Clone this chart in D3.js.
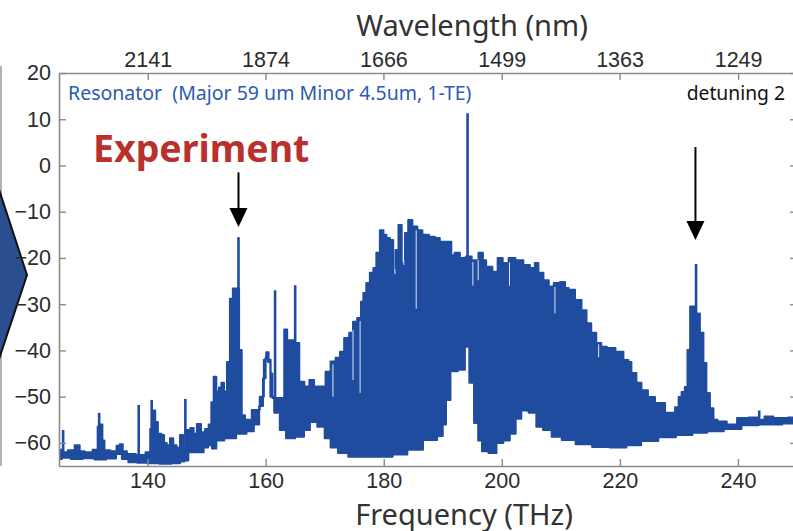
<!DOCTYPE html>
<html>
<head>
<meta charset="utf-8">
<script src="https://cdn.jsdelivr.net/npm/d3@7"></script>
<style>
  body { margin: 0; background: #fff; }
  svg { display: block; font-family: 'Liberation Sans', Arial, sans-serif; }
</style>
</head>
<body>
<div id="chart"></div>
<script>
const freqTicks = [140, 160, 180, 200, 220, 240]
const wavelengthTicks = [2141, 1874, 1666, 1499, 1363, 1249]
const powerTicks = [-60, -50, -40, -30, -20, -10, 0, 10, 20]

// upper edge of the comb spectrum (THz, dB)
const topFreq = [125.0, 125.4, 126.0, 127.0, 128.3, 128.7, 130.0, 131.4, 131.7, 132.2, 132.5, 132.9,
  134.5, 135.0, 135.6, 136.0, 137.0, 139.0, 140.3, 140.6, 141.1, 141.5, 142.0, 142.6, 143.0, 143.5,
  144.1, 144.6, 145.2, 145.8, 146.2, 146.9, 147.6, 148.0, 148.7, 149.4, 150.1, 150.6, 151.0, 151.4,
  151.9, 152.3, 152.7, 153.2, 153.7, 154.2, 154.7, 155.3, 155.7, 156.2, 156.8, 158.5, 159.5, 159.9,
  160.3, 160.7, 161.0, 161.3, 163.1, 163.2, 164.1, 165.3, 166.1, 167.0, 167.8, 168.6, 169.7, 170.6,
  171.4, 172.3, 172.9, 173.7, 174.6, 175.0, 176.0, 176.3, 176.8, 177.3, 178.0, 178.5, 179.0, 179.7,
  180.2, 180.7, 181.4, 181.8, 182.2, 182.8, 183.3, 183.9, 184.4, 185.3, 186.1, 187.0, 188.3, 189.0,
  190.0, 191.2, 191.7, 192.3, 193.5, 194.3, 195.5, 196.6, 197.0, 197.7, 199.1, 199.5, 200.8, 201.5,
  203.1, 204.2, 205.3, 205.9, 206.5, 207.6, 208.3, 209.3, 210.4, 211.0, 211.6, 213.2, 213.8, 214.9,
  215.4, 216.6, 217.1, 218.5, 220.0, 221.2, 221.7, 222.2, 223.4, 223.9, 225.6, 226.3, 229.0, 229.7,
  230.2, 230.7, 231.3, 231.6, 232.2, 232.6, 233.2, 233.9, 234.4, 234.9, 235.6, 236.1, 237.0, 239.2,
  240.5, 243.2, 244.0, 245.0, 247.0, 250.0]
const topPower = [-61.8, -61.5, -62.0, -61.6, -60.5, -61.8, -62.0, -61.5, -56.5, -56.0, -59.5, -61.6,
  -61.8, -60.6, -60.3, -61.8, -62.4, -62.6, -62.0, -57.0, -53.0, -55.5, -58.0, -58.3, -60.0, -60.5,
  -59.0, -60.5, -61.0, -58.3, -61.0, -57.2, -56.8, -58.0, -55.9, -57.7, -57.0, -56.0, -51.2, -45.7,
  -48.9, -48.0, -47.0, -48.9, -42.5, -28.8, -26.6, -26.6, -39.9, -54.0, -55.0, -52.9, -50.0, -42.0,
  -40.4, -42.0, -45.0, -50.3, -50.3, -35.5, -37.8, -38.4, -46.8, -47.8, -46.4, -47.8, -47.8, -44.6,
  -42.4, -41.6, -40.3, -37.3, -36.2, -33.8, -33.0, -29.5, -27.6, -25.4, -23.2, -22.2, -18.9, -14.0,
  -15.0, -15.7, -16.1, -23.0, -18.3, -12.9, -21.1, -14.6, -11.8, -13.2, -14.0, -15.0, -15.4, -15.7,
  -16.5, -16.5, -19.4, -18.9, -20.0, -19.7, -20.5, -18.9, -20.5, -21.9, -23.0, -20.0, -21.1, -20.0,
  -20.5, -21.5, -22.2, -21.1, -23.2, -24.8, -26.2, -25.4, -25.2, -26.5, -26.9, -29.1, -31.3, -34.1,
  -36.2, -38.4, -39.2, -39.5, -40.3, -42.1, -42.5, -44.9, -47.0, -48.6, -50.1, -51.4, -53.5, -52.3,
  -50.1, -49.0, -47.9, -39.9, -30.5, -30.5, -32.0, -36.2, -42.7, -49.2, -52.5, -55.0, -55.4, -56.0,
  -54.6, -54.5, -55.0, -54.3, -54.6, -54.5]

// lower edge: noise floor and the dips between comb lines
const bottomFreq = [125.0, 126.0, 128.0, 130.0, 132.0, 134.0, 135.3, 136.0, 137.5, 139.0, 141.0, 143.0,
  145.0, 146.0, 146.5, 147.3, 149.0, 150.0, 150.5, 151.3, 152.0, 154.0, 156.0, 157.5, 158.5, 159.3,
  159.8, 160.2, 160.6, 161.0, 161.9, 162.9, 164.0, 166.0, 167.0, 168.0, 169.5, 170.5, 171.5, 173.0,
  175.0, 180.0, 183.0, 185.0, 188.3, 189.8, 190.2, 190.9, 191.7, 193.4, 194.1, 194.9, 195.7, 196.3,
  197.0, 198.5, 199.7, 200.8, 201.9, 202.8, 203.8, 205.3, 206.4, 207.6, 209.3, 211.0, 214.0, 216.6,
  220.0, 222.2, 225.0, 228.0, 231.0, 233.6, 236.0, 239.2, 242.0, 245.0, 250.0]
const bottomPower = [-63.5, -63.2, -63.5, -63.3, -63.6, -63.4, -62.4, -63.5, -64.2, -64.3, -64.4, -64.5,
  -64.4, -64.0, -63.8, -62.0, -62.0, -61.0, -60.5, -61.2, -59.5, -59.0, -58.0, -57.5, -56.0, -52.0,
  -46.0, -41.5, -42.5, -50.0, -53.5, -57.2, -59.0, -58.7, -57.2, -55.5, -56.5, -59.0, -61.0, -62.2,
  -63.0, -63.0, -62.5, -61.5, -59.4, -58.5, -56.0, -50.7, -44.5, -44.2, -39.2, -47.0, -55.7, -59.5,
  -61.8, -62.2, -60.0, -59.5, -58.0, -54.8, -53.0, -53.5, -56.5, -57.2, -58.7, -59.4, -60.3, -60.9,
  -61.0, -60.5, -59.6, -58.8, -58.3, -57.8, -57.5, -57.0, -56.2, -56.0, -55.8]

// isolated comb lines rising above the envelope
const spikeFreq = [125.7, 131.8, 138.5, 140.7, 146.4, 155.4, 161.6, 165.0, 194.2, 232.9, 243.6]
const spikePower = [-57.2, -53.5, -51.8, -50.7, -50.5, -15.5, -27.0, -25.9, 11.3, -21.3, -53.0]

// missing comb lines, showing as pale gaps inside the envelope
const gapFreq = [171.4, 174.8, 176.0, 181.9, 183.4, 185.5, 195.1, 196.0, 201.3, 209.0, 216.4]
const gapPower = [-50.0, -46.4, -49.2, -23.5, -21.5, -31.0, -26.0, -24.8, -26.0, -32.0, -41.5]

// annotation arrows (THz, dB from -> to)
const arrowFreq = [155.4, 232.8]
const arrowFrom = [-1.5, 4.0]
const arrowTo = [-13.3, -16.1]

const width = 793
const height = 531
const blue = '#1f4c9f'
const axisGrey = '#8a8a8a'

const x = d3.scaleLinear().domain([125, 250]).range([59, 797])
const y = d3.scaleLinear().domain([-65, 20]).range([466, 73])

const svg = d3.select('#chart').append('svg')
  .attr('width', width)
  .attr('height', height)

svg.append('defs').append('clipPath')
  .attr('id', 'plot-clip')
  .append('rect')
  .attr('x', x(125))
  .attr('y', y(20))
  .attr('width', x(250) - x(125))
  .attr('height', y(-65) - y(20))

// helper: linear read of an edge at a given frequency
function edgeAt (freqs, powers, f) {
  const i = d3.bisectLeft(freqs, f)
  if (i <= 0) return powers[0]
  if (i >= freqs.length) return powers[powers.length - 1]
  const t = (f - freqs[i - 1]) / (freqs[i] - freqs[i - 1])
  return powers[i - 1] + t * (powers[i] - powers[i - 1])
}

// left edge of the neighbouring slide (cropped)
svg.append('line')
  .attr('x1', 1).attr('x2', 1)
  .attr('y1', 66).attr('y2', 466)
  .attr('stroke', '#9a9a9a')
  .attr('stroke-width', 1.5)

svg.append('path')
  .attr('d', 'M-8,168 L27,275 L-8,380 Z')
  .attr('fill', '#2b4e90')
  .attr('stroke', '#111')
  .attr('stroke-width', 2)

const plot = svg.append('g').attr('clip-path', 'url(#plot-clip)')

// spectrum envelope
const outline = topFreq.map((f, i) => [f, topPower[i]])
  .concat(bottomFreq.map((f, i) => [f, bottomPower[i]]).reverse())

const edge = d3.line()
  .x(d => x(d[0]))
  .y(d => y(d[1]))
  .curve(d3.curveStep)

plot.append('path')
  .attr('d', edge(outline) + 'Z')
  .attr('fill', blue)
  .attr('stroke', blue)
  .attr('stroke-width', 2)
  .attr('stroke-linejoin', 'round')

// gaps
plot.selectAll('.gap')
  .data(gapFreq)
  .join('line')
  .attr('class', 'gap')
  .attr('x1', d => x(d))
  .attr('x2', d => x(d))
  .attr('y1', d => y(edgeAt(topFreq, topPower, d)) + 3)
  .attr('y2', (d, i) => y(gapPower[i]))
  .attr('stroke', '#dfe6f3')
  .attr('stroke-width', 1)

// spikes
plot.selectAll('.spike')
  .data(spikeFreq)
  .join('line')
  .attr('class', 'spike')
  .attr('x1', d => x(d))
  .attr('x2', d => x(d))
  .attr('y1', d => y(edgeAt(bottomFreq, bottomPower, d) + 1.5))
  .attr('y2', (d, i) => y(spikePower[i]))
  .attr('stroke', blue)
  .attr('stroke-width', 2.6)

// axes
function styleAxis (g) {
  g.select('.domain').attr('stroke', axisGrey).attr('stroke-width', 1.6)
  g.selectAll('.tick line').attr('stroke', axisGrey).attr('stroke-width', 1.4)
  g.selectAll('.tick text')
    .attr('fill', '#2b2b2b')
    .style('font-size', '21.5px')
    .style('font-family', "'Liberation Sans', Arial, sans-serif")
}

svg.append('g')
  .attr('transform', `translate(0,${y(-65)})`)
  .call(d3.axisBottom(x).tickValues(freqTicks).tickSize(-7).tickSizeOuter(0).tickPadding(7))
  .call(styleAxis)

svg.append('g')
  .attr('transform', `translate(0,${y(20)})`)
  .call(d3.axisTop(x)
    .tickValues(wavelengthTicks.map(w => 299792.458 / w))
    .tickFormat((d, i) => wavelengthTicks[i])
    .tickSize(-7).tickSizeOuter(0).tickPadding(6))
  .call(styleAxis)

svg.append('g')
  .attr('transform', `translate(${x(125)},0)`)
  .call(d3.axisLeft(y).tickValues(powerTicks).tickSize(-7).tickSizeOuter(0).tickPadding(8))
  .call(styleAxis)

svg.append('g')
  .attr('transform', `translate(${x(250)},0)`)
  .call(d3.axisRight(y).tickValues(powerTicks).tickFormat('').tickSize(-7).tickSizeOuter(0))
  .call(styleAxis)

// arrows
const arrows = svg.append('g')
arrowFreq.forEach((f, i) => {
  const ax = x(f)
  const tip = y(arrowTo[i])
  arrows.append('line')
    .attr('x1', ax).attr('x2', ax)
    .attr('y1', y(arrowFrom[i]))
    .attr('y2', tip - 16)
    .attr('stroke', '#000')
    .attr('stroke-width', 2)
  arrows.append('path')
    .attr('d', `M${ax - 9},${tip - 19} L${ax + 9},${tip - 19} L${ax},${tip} Z`)
    .attr('fill', '#000')
})

// titles and labels
svg.append('text')
  .attr('x', 472)
  .attr('y', 36)
  .attr('text-anchor', 'middle')
  .attr('fill', '#333')
  .style('font-family', "'Noto Sans', 'Open Sans', sans-serif")
  .style('font-size', '29px')
  .text('Wavelength (nm)')

svg.append('text')
  .attr('x', 464)
  .attr('y', 524.5)
  .attr('text-anchor', 'middle')
  .attr('fill', '#333')
  .style('font-family', "'Noto Sans', 'Open Sans', sans-serif")
  .style('font-size', '29px')
  .text('Frequency (THz)')

svg.append('text')
  .attr('x', 68)
  .attr('y', 100)
  .attr('fill', '#2c5ab4')
  .style('white-space', 'pre')
  .style('font-family', "'Noto Sans', 'Open Sans', sans-serif")
  .style('font-size', '19.5px')
  .text('Resonator  (Major 59 um Minor 4.5um, 1-TE)')

svg.append('text')
  .attr('x', 785)
  .attr('y', 100)
  .attr('text-anchor', 'end')
  .attr('fill', '#111')
  .style('font-family', "'Noto Sans', 'Open Sans', sans-serif")
  .style('font-size', '19.3px')
  .text('detuning 2')

svg.append('text')
  .attr('x', 93)
  .attr('y', 162)
  .attr('fill', '#b8312c')
  .style('font-family', "'Noto Sans', 'Open Sans', sans-serif")
  .style('font-weight', 'bold')
  .style('font-size', '37.5px')
  .text('Experiment')
</script>
</body>
</html>
